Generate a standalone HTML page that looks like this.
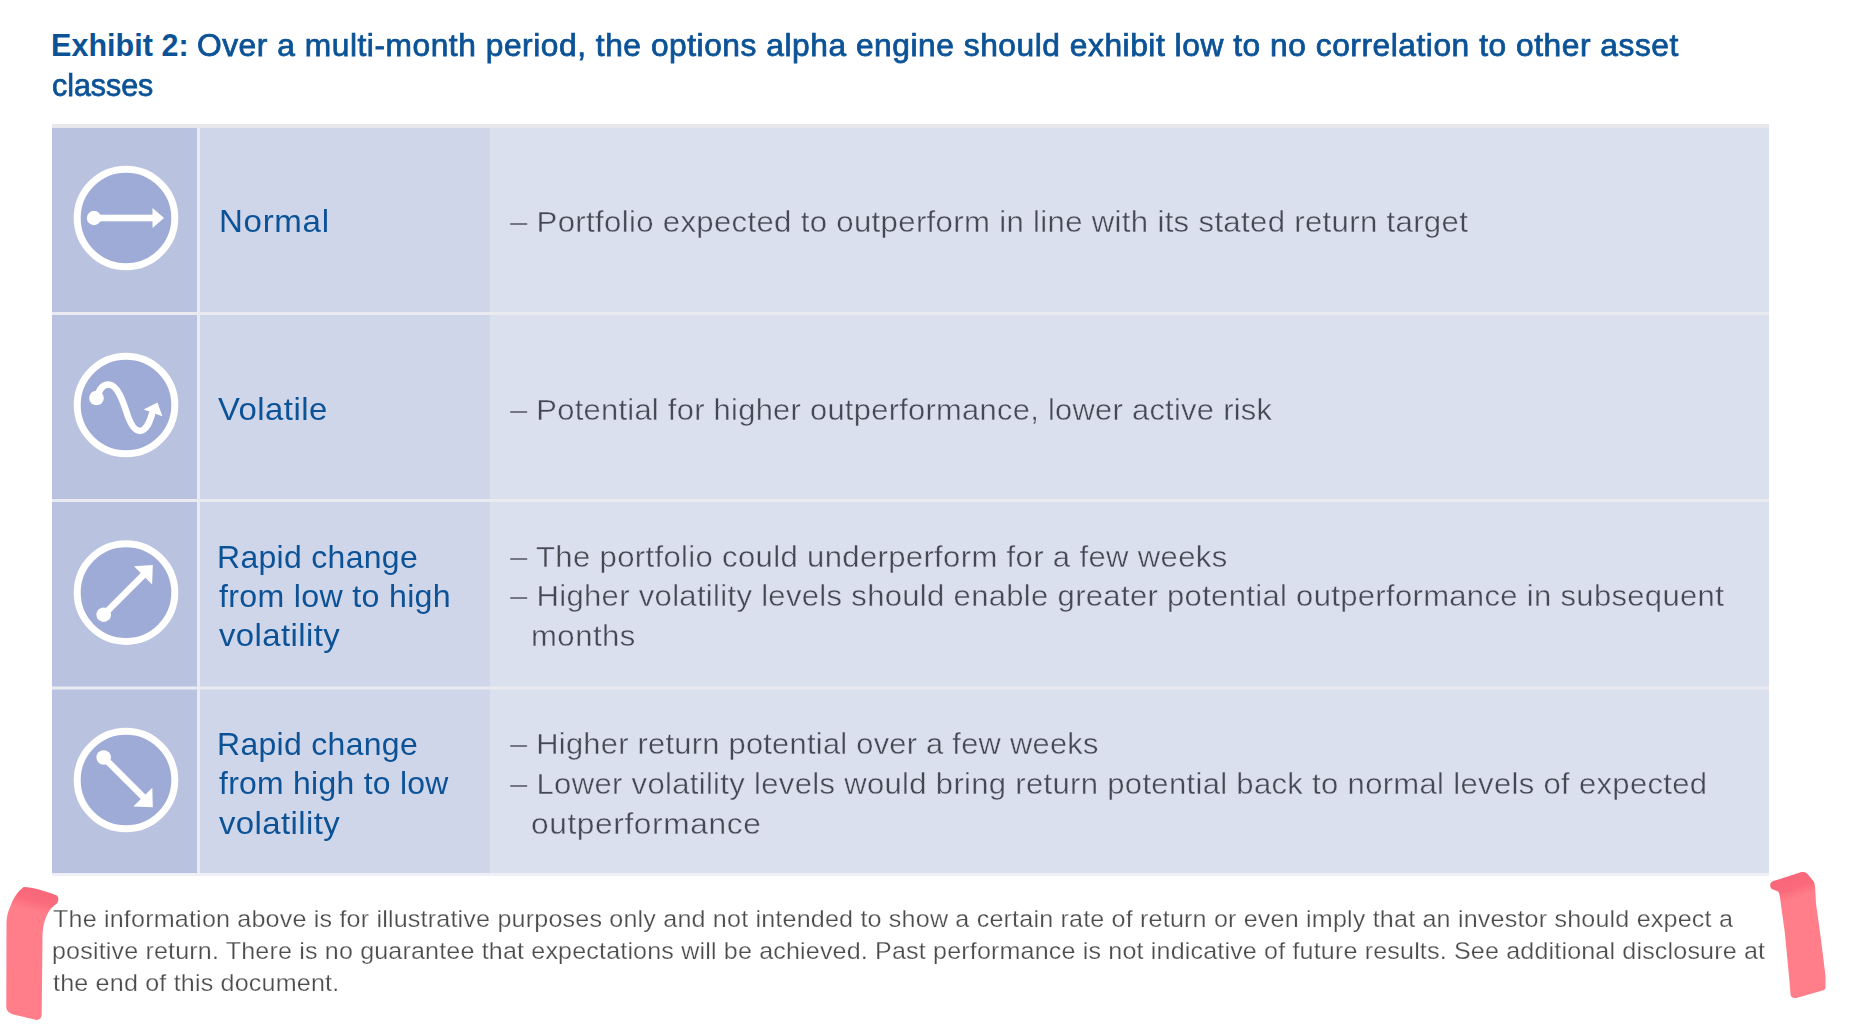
<!DOCTYPE html>
<html><head><meta charset="utf-8"><title>Exhibit 2</title>
<style>
html,body{margin:0;padding:0;background:#fff;}
body{width:1875px;height:1033px;position:relative;overflow:hidden;font-family:'Liberation Sans',Arial,sans-serif;}
.ln{position:absolute;white-space:nowrap;transform-origin:0 0;}
.title{-webkit-text-stroke:0.75px currentColor;}
.tb{font-weight:bold;}
.d{-webkit-text-stroke:0.4px #dbe0ef;}
.f{-webkit-text-stroke:0.25px #fff;}
.tb b{font-weight:bold;}
.bx{position:absolute;}
svg{position:absolute;left:0;top:0;}
</style></head><body>
<svg width="1875" height="1033" viewBox="0 0 1875 1033"><defs><filter id="bl" x="-20%" y="-20%" width="140%" height="140%"><feGaussianBlur stdDeviation="0.6"/></filter>
<linearGradient id="gl" gradientUnits="userSpaceOnUse" x1="40" y1="890" x2="34.7" y2="911.4"><stop offset="0" stop-color="#f8687a"/><stop offset="0.5" stop-color="#fa6a7b"/><stop offset="1" stop-color="#ff7e8a"/></linearGradient>
<linearGradient id="gr" gradientUnits="userSpaceOnUse" x1="1790" y1="879" x2="1796" y2="898"><stop offset="0" stop-color="#f8687a"/><stop offset="0.5" stop-color="#fa6a7b"/><stop offset="1" stop-color="#ff7e8a"/></linearGradient></defs><rect x="52" y="124" width="1717" height="4" fill="#e8e8ec"/><rect x="52" y="128" width="1717" height="745" fill="#e9ebf1"/><rect x="52" y="873" width="1717" height="3" fill="#eef0f6"/><rect x="52" y="128" width="145" height="184" fill="#b9c3df"/><rect x="200" y="128" width="290" height="184" fill="#d0d6ea"/><rect x="490" y="128" width="1279" height="184" fill="#dbe0ef"/><rect x="52" y="315" width="145" height="184" fill="#b9c3df"/><rect x="200" y="315" width="290" height="184" fill="#d0d6ea"/><rect x="490" y="315" width="1279" height="184" fill="#dbe0ef"/><rect x="52" y="502" width="145" height="184.5" fill="#b9c3df"/><rect x="200" y="502" width="290" height="184.5" fill="#d0d6ea"/><rect x="490" y="502" width="1279" height="184.5" fill="#dbe0ef"/><rect x="52" y="689.5" width="145" height="183.5" fill="#b9c3df"/><rect x="200" y="689.5" width="290" height="183.5" fill="#d0d6ea"/><rect x="490" y="689.5" width="1279" height="183.5" fill="#dbe0ef"/><circle cx="126" cy="218" r="48.8" fill="#9eabd6" stroke="#fff" stroke-width="7"/><circle cx="94" cy="218" r="7.2" fill="#fff"/><rect x="94" y="214.7" width="60" height="6.6" fill="#fff"/><path d="M152.5 208 L164 218 L152.5 228 Z" fill="#fff"/><circle cx="126" cy="405" r="48.8" fill="#9eabd6" stroke="#fff" stroke-width="7"/><g transform="translate(0 0)"><circle cx="96.5" cy="398" r="7.3" fill="#fff"/><path d="M97 398 C 99 389, 103 384.5, 108.5 384.5 C 117.5 384.5, 123 401, 128 416.5 C 131.5 426, 135 430.9, 140 430.9 C 146 430.7, 149 424, 152 414" fill="none" stroke="#fff" stroke-width="6.5" stroke-linecap="round"/><path d="M143.6 409.5 L157.5 402.5 L162.4 416.2 Z" fill="#fff"/></g><circle cx="126" cy="592.6" r="48.8" fill="#9eabd6" stroke="#fff" stroke-width="7"/><g transform="translate(0 0.0)"><circle cx="103.7" cy="614.7" r="7.3" fill="#fff"/><line x1="103.7" y1="614.7" x2="146" y2="572.4" stroke="#fff" stroke-width="6.5"/><path d="M152.8 565 L134 566.3 L152.1 584.4 Z" fill="#fff"/></g><circle cx="126" cy="780" r="48.8" fill="#9eabd6" stroke="#fff" stroke-width="7"/><g transform="translate(0 0)"><circle cx="103.7" cy="757.5" r="7.3" fill="#fff"/><line x1="103.7" y1="757.5" x2="146" y2="799.8" stroke="#fff" stroke-width="6.5"/><path d="M152.8 807.2 L133.3 806.5 L152.3 787.8 Z" fill="#fff"/></g><path d="M23.7 887 C 33 887.5, 44 890.5, 56.2 895.3 C 59 896.5, 59 901, 56.9 903.5 C 53 906, 49 910, 47.4 914.3 C 44 921, 43 927, 42.5 935 L 41.7 1015 C 41.5 1018, 39.5 1020, 36.6 1019.9 L 13.5 1014.5 C 9 1013, 6.5 1011, 6.3 1007 L 6.5 922.4 C 7 914, 9 909, 10.8 905.5 C 13 899, 17 892, 23.7 887 Z" fill="url(#gl)" filter="url(#bl)"/><path d="M1770.3 885.4 C 1770 882, 1773 881, 1776 880.3 L 1800.8 872.3 C 1804 871.5, 1806 872, 1808 874.5 L 1813.9 881.8 C 1815 884, 1815.5 890, 1816 903.5 L 1821 939.8 L 1825.5 976 L 1825.5 987.7 C 1825.5 989, 1824 990, 1822.6 990.6 L 1796.4 997.9 C 1793 998.5, 1791 997, 1790.6 995 L 1789 976 L 1784.8 932.6 L 1779.8 896.3 C 1779.5 893, 1778.5 891.5, 1777.6 891.2 L 1771.8 889 C 1770.8 888.2, 1770.3 887, 1770.3 885.4 Z" fill="url(#gr)" filter="url(#bl)"/></svg>
<div class="ln tb" style="left:51.1px;top:29.6px;font-size:30.5px;line-height:30px;letter-spacing:0.021px;color:#0b5296;transform:scaleX(1.0000)"><b>Exhibit 2:</b></div>
<div class="ln title" style="left:196.6px;top:29.6px;font-size:30.5px;line-height:30px;letter-spacing:0.517px;color:#0b5296;transform:scaleX(1.0400)">Over a multi-month period, the options alpha engine should exhibit low to no correlation to other asset</div>
<div class="ln title" style="left:51.6px;top:69.6px;font-size:30.5px;line-height:30px;letter-spacing:-0.038px;color:#0b5296;transform:scaleX(0.9978)">classes</div>
<div class="ln c2" style="left:218.6px;top:206.4px;font-size:30.5px;line-height:30px;letter-spacing:0.630px;color:#0b5296;transform:scaleX(1.0843)">Normal</div>
<div class="ln c2" style="left:218.3px;top:394.4px;font-size:30.5px;line-height:30px;letter-spacing:0.430px;color:#0b5296;transform:scaleX(1.0777)">Volatile</div>
<div class="ln c2" style="left:217.1px;top:541.5px;font-size:30.5px;line-height:30px;letter-spacing:0.321px;color:#0b5296;transform:scaleX(1.0466)">Rapid change</div>
<div class="ln c2" style="left:219.2px;top:581.2px;font-size:30.5px;line-height:30px;letter-spacing:0.309px;color:#0b5296;transform:scaleX(1.0534)">from low to high</div>
<div class="ln c2" style="left:219.2px;top:620.4px;font-size:30.5px;line-height:30px;letter-spacing:0.382px;color:#0b5296;transform:scaleX(1.0793)">volatility</div>
<div class="ln c2" style="left:217.1px;top:728.5px;font-size:30.5px;line-height:30px;letter-spacing:0.321px;color:#0b5296;transform:scaleX(1.0466)">Rapid change</div>
<div class="ln c2" style="left:219.2px;top:768.2px;font-size:30.5px;line-height:30px;letter-spacing:0.270px;color:#0b5296;transform:scaleX(1.0458)">from high to low</div>
<div class="ln c2" style="left:219.2px;top:807.7px;font-size:30.5px;line-height:30px;letter-spacing:0.382px;color:#0b5296;transform:scaleX(1.0793)">volatility</div>
<div class="ln d" style="left:510.1px;top:206.7px;font-size:30.0px;line-height:30px;letter-spacing:0.311px;color:#444852;transform:scaleX(1.0382)">– Portfolio expected to outperform in line with its stated return target</div>
<div class="ln d" style="left:510.1px;top:394.8px;font-size:30.0px;line-height:30px;letter-spacing:0.259px;color:#444852;transform:scaleX(1.0303)">– Potential for higher outperformance, lower active risk</div>
<div class="ln d" style="left:510.1px;top:541.7px;font-size:30.0px;line-height:30px;letter-spacing:0.321px;color:#444852;transform:scaleX(1.0361)">– The portfolio could underperform for a few weeks</div>
<div class="ln d" style="left:510.1px;top:581.4px;font-size:30.0px;line-height:30px;letter-spacing:0.299px;color:#444852;transform:scaleX(1.0347)">– Higher volatility levels should enable greater potential outperformance in subsequent</div>
<div class="ln d" style="left:531.1px;top:620.8px;font-size:30.0px;line-height:30px;letter-spacing:0.449px;color:#444852;transform:scaleX(1.0366)">months</div>
<div class="ln d" style="left:510.1px;top:728.9px;font-size:30.0px;line-height:30px;letter-spacing:0.251px;color:#444852;transform:scaleX(1.0283)">– Higher return potential over a few weeks</div>
<div class="ln d" style="left:510.1px;top:768.8px;font-size:30.0px;line-height:30px;letter-spacing:0.295px;color:#444852;transform:scaleX(1.0353)">– Lower volatility levels would bring return potential back to normal levels of expected</div>
<div class="ln d" style="left:530.9px;top:808.6px;font-size:30.0px;line-height:30px;letter-spacing:0.570px;color:#444852;transform:scaleX(1.0563)">outperformance</div>
<div class="ln f" style="left:52.9px;top:907.0px;font-size:24.5px;line-height:24px;letter-spacing:0.174px;color:#4c4c4c;transform:scaleX(1.0251)">The information above is for illustrative purposes only and not intended to show a certain rate of return or even imply that an investor should expect a</div>
<div class="ln f" style="left:52.0px;top:938.7px;font-size:24.5px;line-height:24px;letter-spacing:0.161px;color:#4c4c4c;transform:scaleX(1.0234)">positive return. There is no guarantee that expectations will be achieved. Past performance is not indicative of future results. See additional disclosure at</div>
<div class="ln f" style="left:53.0px;top:971.1px;font-size:24.5px;line-height:24px;letter-spacing:0.180px;color:#4c4c4c;transform:scaleX(1.0243)">the end of this document.</div>
</body></html>
